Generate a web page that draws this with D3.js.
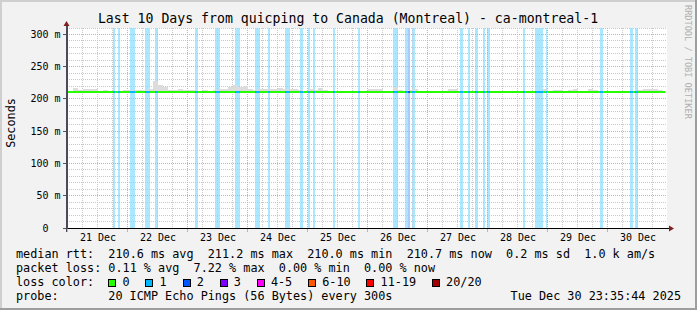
<!DOCTYPE html>
<html>
<head>
<meta charset="utf-8">
<script src="https://cdn.jsdelivr.net/npm/d3@7/dist/d3.min.js"></script>
<style>
  body { margin: 0; background: #f2f2f2; }
  text { font-family: "DejaVu Sans Mono", monospace; white-space: pre; }
</style>
</head>
<body>
<div id="chart"></div>
<script>
// ---- data ----
var title = "Last 10 Days from quicping to Canada (Montreal) - ca-montreal-1";
var startTime = "2025-12-20T23:35:44Z",
    endTime = "2025-12-30T23:35:44Z",
    lastUpdate = "2025-12-30T22:48:00Z";

// median rtt (ms) and top of smoke (ms), 2 hour bins from binStart
var binStart = "2025-12-20T22:00:00Z", binHours = 2;
var median = [
  210.5,
  210.5,210.5,210.5,210.5,210.5,210.5,211.1,210.5,211.1,210.6,210.5,210.5,
  210.5,210.5,210.5,210.5,210.5,210.5,210.6,211.1,210.5,210.5,211.1,210.5,
  210.5,210.5,210.5,211.1,210.5,210.5,210.5,211.1,210.5,211.1,210.5,210.5,
  211.1,210.5,211.1,210.5,210.5,210.5,210.5,210.5,210.5,210.5,210.5,210.5,
  210.5,210.5,210.5,210.5,210.5,210.5,210.5,210.5,210.5,210.5,210.5,210.5,
  210.5,210.5,210.5,210.5,210.5,210.5,210.5,210.5,210.5,210.5,210.5,211.1,
  211.1,211.1,210.5,210.5,211.1,210.5,210.5,210.5,210.5,210.5,210.5,210.5,
  210.5,210.5,210.5,210.5,211.1,211.1,210.5,210.5,211.1,210.5,210.5,210.5,
  210.5,210.5,210.5,210.5,210.5,210.5,211.1,210.5,211.1,210.5,210.5,210.5,
  210.5,210.5,211.1,210.5,210.5,210.5,210.5,210.5,211.1,210.5,211.1,210.5
];
var smokeTop = [
  212,
  212,217,214,216,216,216,213,214,213,213,213,214,
  214,214,214,214,216,228,222,218,214,214,215,214,
  214,214,213,214,213,214,215,215,218,222,219,220,
  215,214,216,216,215,215,217,215,215,215,214,213,
  215,214,217,214,213,213,213,213,213,213,213,213,
  215,215,215,213,213,218,214,213,214,215,213,213,
  213,213,213,213,216,216,213,213,213,213,213,213,
  213,213,213,213,213,213,213,213,213,213,213,215,
  213,214,214,213,214,215,213,213,215,214,213,213,
  213,213,213,213,213,213,214,215,215,215,214,213
];

// periods with packet loss (UTC) and number of lost pings
var lossStart = ["2025-12-21T18:00","2025-12-21T20:00","2025-12-22T00:48","2025-12-22T06:48",
  "2025-12-22T10:48","2025-12-23T02:48","2025-12-23T10:48","2025-12-23T18:48","2025-12-24T02:48",
  "2025-12-24T08:00","2025-12-24T14:48","2025-12-24T20:48","2025-12-25T00:00","2025-12-25T02:00",
  "2025-12-25T10:00","2025-12-25T20:00","2025-12-26T10:00","2025-12-26T14:48","2025-12-26T16:00",
  "2025-12-26T17:36","2025-12-27T12:48","2025-12-27T16:00","2025-12-27T18:48","2025-12-27T22:00",
  "2025-12-27T23:36","2025-12-28T14:00","2025-12-28T18:48","2025-12-28T23:12","2025-12-29T20:48",
  "2025-12-30T08:48","2025-12-30T10:48"];
var lossEnd = ["2025-12-21T18:48","2025-12-21T20:48","2025-12-22T02:48","2025-12-22T08:48",
  "2025-12-22T12:00","2025-12-23T04:00","2025-12-23T12:48","2025-12-23T20:48","2025-12-24T04:48",
  "2025-12-24T08:48","2025-12-24T16:48","2025-12-24T22:00","2025-12-25T00:48","2025-12-25T02:48",
  "2025-12-25T10:48","2025-12-25T20:48","2025-12-26T12:00","2025-12-26T16:00","2025-12-26T16:48",
  "2025-12-26T18:48","2025-12-27T14:00","2025-12-27T16:48","2025-12-27T20:00","2025-12-27T22:48",
  "2025-12-28T00:48","2025-12-28T14:48","2025-12-28T22:00","2025-12-28T23:36","2025-12-29T22:00",
  "2025-12-30T10:00","2025-12-30T12:00"];
var lossLevel = [1,1,1,1,1,1,1,1,1,1,1,1,1,1,1,1,1,1,2,1,1,1,1,1,1,1,1,1,1,1,1];

var lossKeys = ["0","1","2","3","4-5","6-10","11-19","20/20"];
var lossColors = ["#26ff00","#00b8ff","#0059ff","#7e00ff","#ff00ff","#ff5500","#ff0000","#a10000"];

var yTicks = [0, 50, 100, 150, 200, 250, 300];
var yMax = 310;
var yUnit = "Seconds";

var legendRtt = "median rtt:  210.6 ms avg  211.2 ms max  210.0 ms min  210.7 ms now  0.2 ms sd  1.0 k am/s";
var legendLoss = "packet loss: 0.11 % avg  7.22 % max  0.00 % min  0.00 % now";
var legendProbe = "20 ICMP Echo Pings (56 Bytes) every 300s";
var stamp = "Tue Dec 30 23:35:44 2025";
var watermark = "RRDTOOL / TOBI OETIKER";

// ---- layout ----
var W = 697, H = 310;
var plotL = 67, plotR = 667, plotT = 28, plotB = 228;
var cw = 7.1; // legend char advance

var svg = d3.select("#chart").append("svg")
    .attr("width", W)
    .attr("height", H);

var parse = function(s) { return new Date(s.length < 17 ? s + ":00Z" : s); };

var x = d3.scaleUtc().domain([parse(startTime), parse(endTime)]).range([plotL, plotR]),
    y = d3.scaleLinear().domain([0, yMax]).range([plotB, plotT]);

// background and 3d border
svg.append("rect").attr("width", W).attr("height", H).attr("fill", "#f2f2f2");
svg.append("rect").attr("x", 0).attr("y", 0).attr("width", W).attr("height", 2).attr("fill", "#cfcfcf");
svg.append("rect").attr("x", 0).attr("y", 0).attr("width", 2).attr("height", H).attr("fill", "#cfcfcf");
svg.append("rect").attr("x", 0).attr("y", H - 2).attr("width", W).attr("height", 2).attr("fill", "#9e9e9e");
svg.append("rect").attr("x", W - 2).attr("y", 0).attr("width", 2).attr("height", H).attr("fill", "#9e9e9e");

// canvas
svg.append("rect")
    .attr("x", plotL).attr("y", plotT)
    .attr("width", plotR - plotL).attr("height", plotB - plotT)
    .attr("fill", "#ffffff");

svg.append("clipPath").attr("id", "clip")
  .append("rect")
    .attr("x", plotL).attr("y", plotT)
    .attr("width", plotR - plotL).attr("height", plotB - plotT);

var plot = svg.append("g").attr("clip-path", "url(#clip)");

// loss background bars
plot.append("g")
  .selectAll("rect")
  .data(lossStart)
  .enter().append("rect")
    .attr("x", function(d) { return Math.round(x(parse(d))); })
    .attr("y", plotT)
    .attr("width", function(d, i) { return Math.round(x(parse(lossEnd[i]))) - Math.round(x(parse(d))); })
    .attr("height", plotB - plotT)
    .attr("fill", function(d, i) { return lossColors[lossLevel[i]]; })
    .attr("fill-opacity", 0.33);

// grid
var t0 = parse(startTime), t1 = parse(endTime);
var minorX = d3.utcHour.every(6).range(t0, t1).filter(function(d) { return d.getUTCHours() !== 0; }),
    majorX = d3.utcDay.range(t0, t1);
var minorY = y.ticks(31).filter(function(d) { return d % 50 !== 0; }),
    majorY = yTicks.filter(function(d) { return d > 0; });

var grid = plot.append("g").attr("shape-rendering", "crispEdges");
grid.selectAll(".vmin").data(minorX).enter().append("line")
    .attr("x1", function(d) { return Math.round(x(d)) - 0.5; })
    .attr("x2", function(d) { return Math.round(x(d)) - 0.5; })
    .attr("y1", plotT).attr("y2", plotB)
    .attr("stroke", "#c8c8c8").attr("stroke-dasharray", "1,1");
grid.selectAll(".hmin").data(minorY).enter().append("line")
    .attr("x1", plotL).attr("x2", plotR)
    .attr("y1", function(d) { return Math.floor(y(d)) + 0.5; })
    .attr("y2", function(d) { return Math.floor(y(d)) + 0.5; })
    .attr("stroke", "#c8c8c8").attr("stroke-dasharray", "1,1");
grid.selectAll(".vmaj").data(majorX).enter().append("line")
    .attr("x1", function(d) { return Math.round(x(d)) - 0.5; })
    .attr("x2", function(d) { return Math.round(x(d)) - 0.5; })
    .attr("y1", plotT).attr("y2", plotB)
    .attr("stroke", "#eea0a0").attr("stroke-dasharray", "1,1");
grid.selectAll(".hmaj").data(majorY).enter().append("line")
    .attr("x1", plotL).attr("x2", plotR)
    .attr("y1", function(d) { return Math.floor(y(d)) + 0.5; })
    .attr("y2", function(d) { return Math.floor(y(d)) + 0.5; })
    .attr("stroke", "#eea0a0").attr("stroke-dasharray", "1,1");

// bins -> step points
var b0 = parse(binStart), tEnd = parse(lastUpdate);
var bins = median.map(function(m, i) {
  return { t: d3.utcHour.offset(b0, i * binHours), med: m, top: smokeTop[i] };
}).filter(function(d) { return d.t < tEnd; });
bins.push({ t: tEnd, med: bins[bins.length - 1].med, top: bins[bins.length - 1].top });

// smoke
plot.append("path")
    .datum(bins)
    .attr("fill", "#dcdcdc")
    .attr("shape-rendering", "crispEdges")
    .attr("d", d3.area().curve(d3.curveStepAfter)
      .x(function(d) { return x(d.t); })
      .y0(function(d) { return y(d.med); })
      .y1(function(d) { return y(d.top); }));

// median line, coloured by loss
plot.append("path")
    .datum(bins)
    .attr("fill", "none")
    .attr("stroke", lossColors[0])
    .attr("stroke-width", 2)
    .attr("shape-rendering", "crispEdges")
    .attr("d", d3.line().curve(d3.curveStepAfter)
      .x(function(d) { return x(d.t); })
      .y(function(d) { return y(d.med); }));

function medianAt(t) {
  var i = Math.floor((t - b0) / (binHours * 3600e3));
  return median[Math.max(0, Math.min(median.length - 1, i))];
}

plot.append("g")
  .attr("shape-rendering", "crispEdges")
  .selectAll("line")
  .data(lossStart)
  .enter().append("line")
    .attr("x1", function(d) { return Math.round(x(parse(d))); })
    .attr("x2", function(d, i) { return Math.round(x(parse(lossEnd[i]))); })
    .attr("y1", function(d) { return y(medianAt(parse(d))); })
    .attr("y2", function(d) { return y(medianAt(parse(d))); })
    .attr("stroke", function(d, i) { return lossColors[lossLevel[i]]; })
    .attr("stroke-width", 2);

// axes
var ax = svg.append("g").attr("shape-rendering", "crispEdges");
ax.append("line").attr("x1", plotL - 4).attr("x2", plotR + 4)
    .attr("y1", plotB + 0.5).attr("y2", plotB + 0.5).attr("stroke", "#000");
ax.append("line").attr("x1", plotL - 0.5).attr("x2", plotL - 0.5)
    .attr("y1", plotB + 4).attr("y2", plotT - 4).attr("stroke", "#4a4a5a").attr("stroke-width", 2);
ax.selectAll(".ytick").data(yTicks).enter().append("line")
    .attr("x1", plotL - 4).attr("x2", plotL - 1)
    .attr("y1", function(d) { return Math.floor(y(d)) + 0.5; })
    .attr("y2", function(d) { return Math.floor(y(d)) + 0.5; })
    .attr("stroke", "#555");
ax.selectAll(".xtick").data(majorX).enter().append("line")
    .attr("x1", function(d) { return Math.round(x(d)) - 0.5; })
    .attr("x2", function(d) { return Math.round(x(d)) - 0.5; })
    .attr("y1", plotB + 1).attr("y2", plotB + 4)
    .attr("stroke", "#eea0a0");

svg.append("path")
    .attr("d", "M" + (plotL - 0.5) + "," + (plotT - 7) + "l-3,5h6z")
    .attr("fill", "#7f1f1f");
svg.append("path")
    .attr("d", "M" + (plotR + 7) + "," + (plotB + 0.5) + "l-5,-3v6z")
    .attr("fill", "#7f1f1f");

// y labels
svg.append("g")
  .selectAll("text")
  .data(yTicks)
  .enter().append("text")
    .attr("x", function(d) { return d === 0 ? 48.5 : 60.5; })
    .attr("y", function(d) { return y(d) + 3.5; })
    .attr("text-anchor", "end")
    .attr("font-size", "10px")
    .text(function(d) { return d === 0 ? "0" : d + " m"; });

svg.append("text")
    .attr("transform", "translate(15," + ((plotT + plotB) / 2 - 5) + ") rotate(-90)")
    .attr("text-anchor", "middle")
    .attr("font-size", "11.8px")
    .text(yUnit);

// x labels at noon
var noons = d3.utcHour.range(t0, t1).filter(function(d) { return d.getUTCHours() === 12; });
svg.append("g")
  .selectAll("text")
  .data(noons)
  .enter().append("text")
    .attr("x", function(d) { return x(d); })
    .attr("y", 241)
    .attr("text-anchor", "middle")
    .attr("font-size", "10px")
    .text(d3.utcFormat("%d %b"));

// title
svg.append("text")
    .attr("x", 348).attr("y", 23)
    .attr("text-anchor", "middle")
    .attr("font-size", "13.2px")
    .text(title);

svg.append("text")
    .attr("transform", "translate(685,5) rotate(90)")
    .attr("font-size", "8.6px")
    .attr("fill", "#b0b0b0")
    .text(watermark);

// legend
var lg = svg.append("g").attr("font-size", "11.8px");
lg.append("text").attr("x", 16).attr("y", 258).text(legendRtt);
lg.append("text").attr("x", 16).attr("y", 272).text(legendLoss);
lg.append("text").attr("x", 16).attr("y", 286).text("loss color:");
lg.append("text").attr("x", 16).attr("y", 300).text("probe:");
lg.append("text").attr("x", 16 + 13 * cw).attr("y", 300).text(legendProbe);
lg.append("text").attr("x", 681).attr("y", 300).attr("text-anchor", "end").text(stamp);

var bx = [], pos = 16 + 13 * cw;
lossKeys.forEach(function(k) { bx.push(pos); pos += 30 + k.length * cw; });

var items = lg.selectAll(".item").data(lossKeys).enter().append("g");
items.append("rect")
    .attr("x", function(d, i) { return Math.round(bx[i]) + 0.5; })
    .attr("y", 279.5)
    .attr("width", 7).attr("height", 7)
    .attr("fill", function(d, i) { return lossColors[i]; })
    .attr("stroke", "#000")
    .attr("shape-rendering", "crispEdges");
items.append("text")
    .attr("x", function(d, i) { return bx[i] + 2 * cw; })
    .attr("y", 286)
    .text(function(d) { return d; });
</script>
</body>
</html>
